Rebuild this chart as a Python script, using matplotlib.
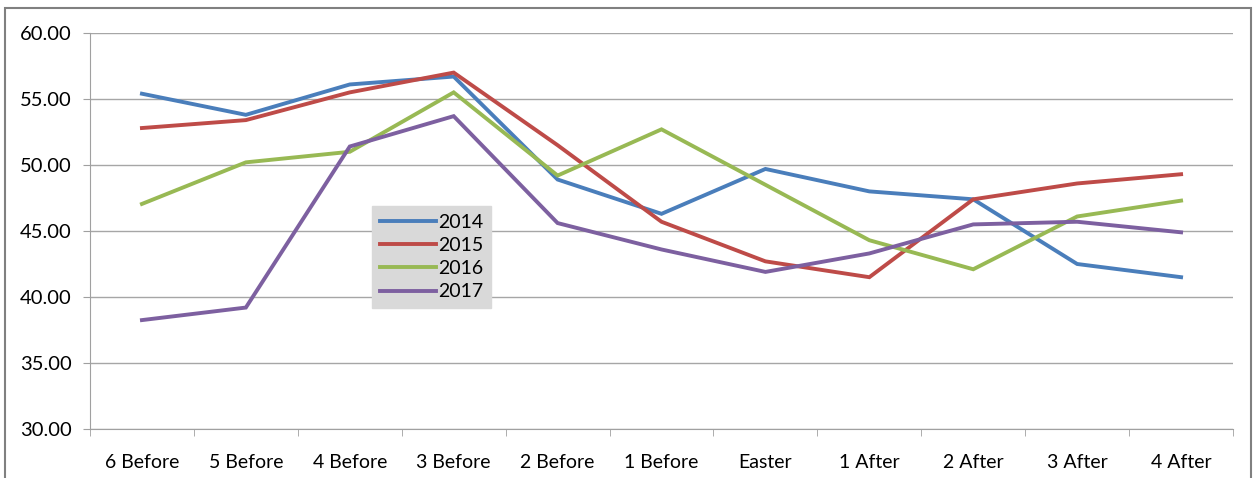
import matplotlib.pyplot as plt
from matplotlib.patches import Rectangle

plt.rcParams['font.family'] = ['Lato', 'DejaVu Sans']

categories = ["6 Before", "5 Before", "4 Before", "3 Before", "2 Before", "1 Before",
              "Easter", "1 After", "2 After", "3 After", "4 After"]
y2014 = [55.4, 53.8, 56.1, 56.7, 48.9, 46.3, 49.7, 48.0, 47.4, 42.5, 41.5]
y2015 = [52.8, 53.4, 55.5, 57.0, 51.5, 45.7, 42.7, 41.5, 47.4, 48.6, 49.3]
y2016 = [47.05, 50.2, 51.0, 55.5, 49.2, 52.7, 48.5, 44.3, 42.1, 46.1, 47.3]
y2017 = [38.25, 39.2, 51.4, 53.7, 45.6, 43.6, 41.9, 43.3, 45.5, 45.7, 44.9]

series = [("2014", y2014, "#4a7ebb"), ("2015", y2015, "#be4b48"),
          ("2016", y2016, "#98b954"), ("2017", y2017, "#7d60a0")]

fig = plt.figure(figsize=(12.55, 4.78), dpi=100)
ax = fig.add_axes([0.0717, 0.1025, 0.9108, 0.8285])

x = range(len(categories))
for name, vals, col in series:
    ax.plot(x, vals, color=col, lw=2.8, label=name, solid_joinstyle='miter')

ax.set_xlim(-0.5, len(categories) - 0.5)
ax.set_ylim(30, 60)
ax.set_yticks([30, 35, 40, 45, 50, 55, 60])
ax.set_yticklabels(["%.2f" % v for v in [30, 35, 40, 45, 50, 55, 60]])
ax.set_xticks(list(x))
ax.set_xticklabels(categories)
ax.set_xticks([i - 0.5 for i in range(len(categories) + 1)], minor=True)
ax.tick_params(axis='x', which='major', length=0, pad=18, labelsize=14)
ax.tick_params(axis='x', which='minor', length=5, color='#a0a0a0', direction='out')
ax.tick_params(axis='y', length=5, color='#a0a0a0', labelsize=14.5, pad=8)
ax.grid(axis='y', color='#a6a6a6', lw=1)
ax.set_axisbelow(True)
for s in ['top', 'right']:
    ax.spines[s].set_visible(False)
for s in ['left', 'bottom']:
    ax.spines[s].set_color('#a0a0a0')

leg = ax.legend(loc='upper left', bbox_to_anchor=(0.247, 0.563), borderaxespad=0,
                frameon=True, fontsize=14, handlelength=2.9, handletextpad=0.1,
                borderpad=0.4, labelspacing=0.32, fancybox=False)
leg.get_frame().set_facecolor('#d9d9d9')
leg.get_frame().set_edgecolor('#d9d9d9')
leg.get_frame().set_alpha(1)

fig.patches.append(Rectangle((0.004, -0.05), 0.993, 1.033, transform=fig.transFigure,
                             fill=False, edgecolor='#808080', lw=1.5))

fig.savefig("out.png", dpi=100)
